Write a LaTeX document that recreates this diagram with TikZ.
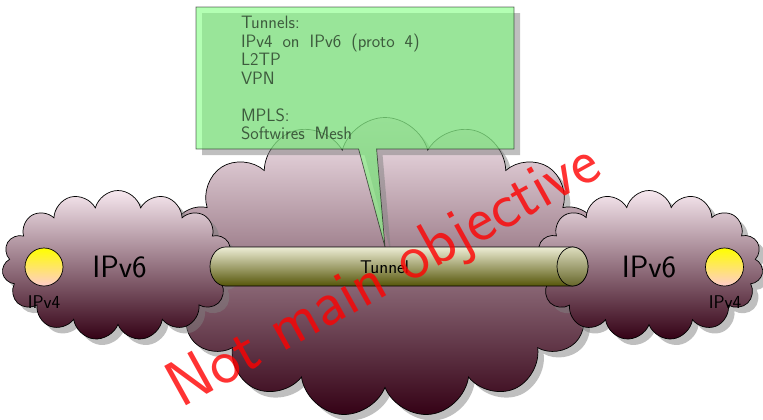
\documentclass[tikz,border=0pt]{standalone}
\usepackage{tikz}
\usetikzlibrary{shapes.symbols,shapes.geometric,shapes.callouts,shadows}
\renewcommand{\familydefault}{\sfdefault}
\definecolor{cloudtop}{HTML}{F7E8EF}
\definecolor{cloudbot}{HTML}{330014}
\definecolor{tubetop}{HTML}{EEEED6}
\definecolor{tubebot}{HTML}{555508}
\definecolor{captop}{HTML}{DDDDBE}
\definecolor{capbot}{HTML}{66662A}
\tikzset{
 x=1bp,y=-1bp,
 cloudnode/.style={cloud,cloud puffs=15,cloud ignores aspect,draw=black,line width=0.7bp,inner sep=0,
   top color=cloudtop,bottom color=cloudbot,
   drop shadow={shadow xshift=6bp,shadow yshift=-6bp}},
 hostnode/.style={circle,draw=black,line width=0.7bp,minimum size=38bp,inner sep=0,top color=yellow,bottom color=red!20},
 biglabel/.style={font=\fontsize{31}{33}\selectfont},
 smalllabel/.style={font=\fontsize{18.5}{20}\selectfont},
}
\begin{document}
\begin{tikzpicture}
\useasboundingbox (0,0) rectangle (763,419);
\node[cloudnode,minimum width=440bp,minimum height=300bp] (core) at (385,267.5) {};
\node[cloudnode,minimum width=232bp,minimum height=150bp] (leftcloud) at (118,265.5) {};
\node[cloudnode,minimum width=228bp,minimum height=150bp] (rightcloud) at (649,265.5) {};
\node[rectangle callout,callout absolute pointer={(385,247)},callout pointer width=18bp,
  draw=black,fill=green!50,opacity=.6,line width=0.7bp,inner sep=0,
  minimum width=318bp,minimum height=142bp,text width=318bp,align=left,
  drop shadow={shadow xshift=6bp,shadow yshift=-6bp},
  font=\fontsize{18}{18.6}\selectfont] (note) at (355,78) {%
  \spaceskip=10bp\relax
  \hspace*{45bp}Tunnels:\\
  \hspace*{45bp}IPv4 on IPv6 (proto 4)\\
  \hspace*{45bp}L2TP\\
  \hspace*{45bp}VPN\\[18.6pt]
  \hspace*{45bp}MPLS:\\
  \hspace*{45bp}Softwires Mesh};
\draw[line width=0.7bp,top color=tubetop,bottom color=tubebot]
  (572.5,247) -- (225.5,247) arc[start angle=90,end angle=270,x radius=15.5bp,y radius=19.5bp]
  -- (572.5,286) arc[start angle=-90,end angle=90,x radius=15.5bp,y radius=19.5bp] -- cycle;
\node[draw=black,line width=0.7bp,ellipse,inner sep=0,minimum width=31bp,minimum height=39bp,
  top color=captop,bottom color=capbot] (tubeend) at (572.5,266.5) {};
\node[smalllabel] (tunnellabel) at (384.5,267) {Tunnel};
\node[biglabel] (v6a) at (119.5,267) {IPv6};
\node[biglabel] (v6b) at (649,267) {IPv6};
\node[hostnode] (hosta) at (44,267) {};
\node[hostnode] (hostb) at (724.5,267) {};
\node[smalllabel] (v4a) at (44,302) {IPv4};
\node[smalllabel] (v4b) at (725,302) {IPv4};
\node[red,opacity=.8,rotate=29,font=\fontsize{65}{67}\selectfont] (stamp) at (385,278) {Not main objective};
\end{tikzpicture}
\end{document}
